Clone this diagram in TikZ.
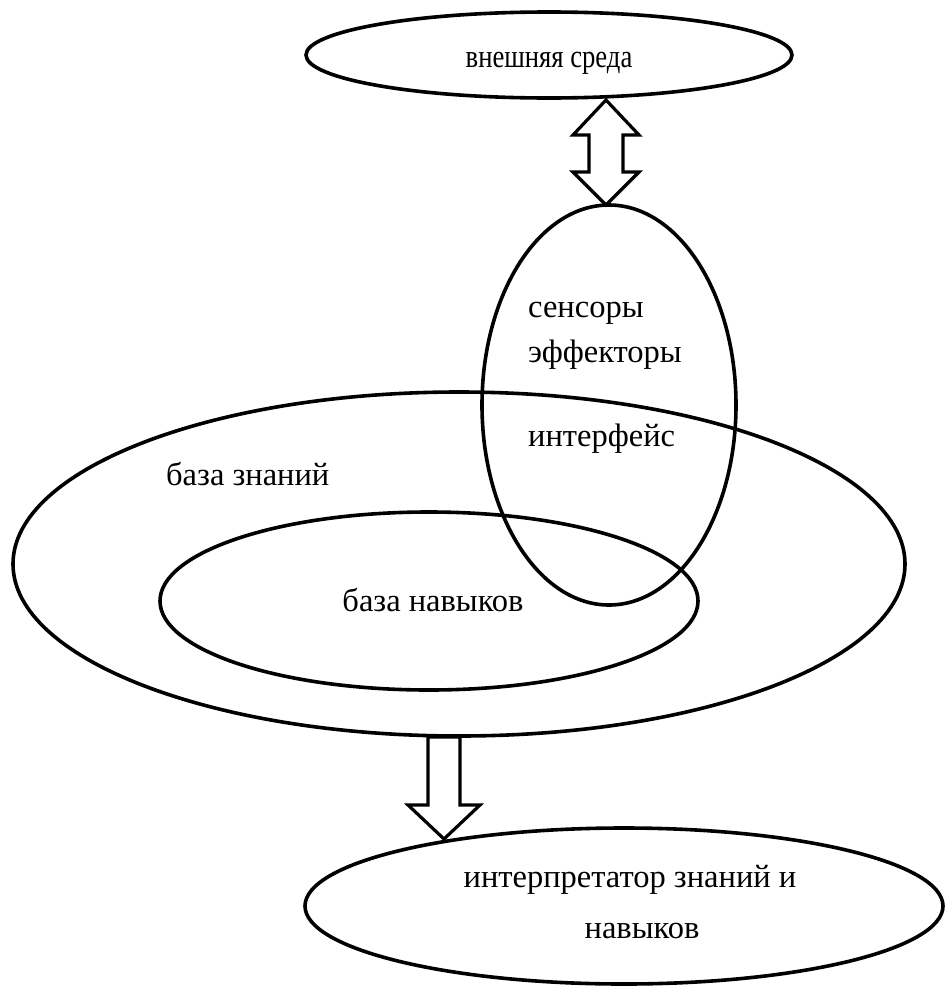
\documentclass[tikz,border=0pt]{standalone}
\usepackage{fontspec}
\setmainfont{Liberation Serif}
\begin{document}
\begin{tikzpicture}[x=1pt,y=-1pt,
  oval/.style={draw,line width=3.6pt},
  lbl/.style={font=\fontsize{32.5}{36}\selectfont,inner sep=0pt},
  fat/.style={draw,line width=3.2pt,fill=white,line join=miter}]
\useasboundingbox (0,0) rectangle (945,988);
% ellipses
\draw[oval] (549,55) ellipse [x radius=243,y radius=43];
\draw[oval] (459,564) ellipse [x radius=446,y radius=172];
\draw[oval] (429,601) ellipse [x radius=269,y radius=89];
\draw[oval] (609,405) ellipse [x radius=127,y radius=200];
\draw[oval] (624,906) ellipse [x radius=319,y radius=78];
% named anchors
\coordinate (ua) at (606,100);
\coordinate (ub) at (606,205);
\coordinate (db) at (444,839);
% double arrow
\draw[fat] (ua) -- (639,135) -- (623,135) -- (623,172) -- (639,172) -- (ub)
  -- (573,172) -- (589,172) -- (589,135) -- (573,135) -- cycle;
% down arrow
\draw[fat] (428,737) -- (460,737) -- (460,805) -- (480,805) -- (db)
  -- (408,805) -- (428,805) -- cycle;
% labels
\node[lbl,anchor=base] (env) at (549,67) {\scalebox{0.82}[1]{внешняя среда}};
\node[lbl,anchor=base west] (sens) at (528,317) {сенсоры};
\node[lbl,anchor=base west] (eff) at (528,362) {эффекторы};
\node[lbl,anchor=base west] (intf) at (528,446) {интерфейс};
\node[lbl,anchor=base west] (kb) at (166,485) {база знаний};
\node[lbl,anchor=base] (sb) at (433,611) {база навыков};
\node[lbl,anchor=base] (interp1) at (630,887) {интерпретатор знаний и};
\node[lbl,anchor=base] (interp2) at (642,938) {навыков};
\end{tikzpicture}
\end{document}
